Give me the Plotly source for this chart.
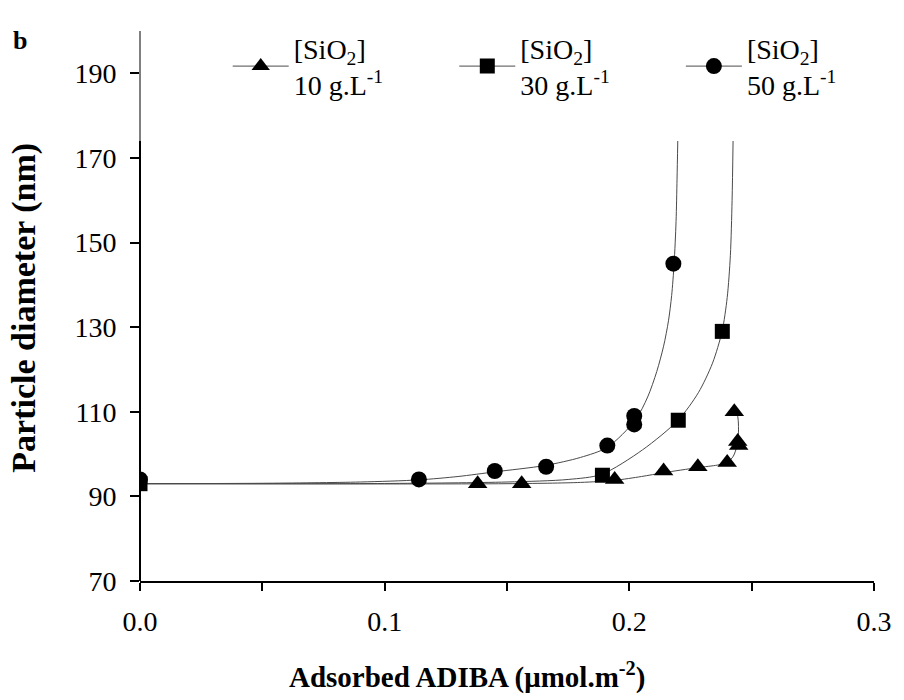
import plotly.graph_objects as go

# Measured points: adsorbed ADIBA (umol/m2) vs particle diameter (nm)
tri_x = [0.138, 0.156, 0.194, 0.214, 0.228, 0.240, 0.2443, 0.2447, 0.2429]
tri_y = [93, 93, 94, 96, 97, 98, 103, 102, 110]

sq_x = [0.0, 0.189, 0.220, 0.238]
sq_y = [93, 95, 108, 129]

circ_x = [0.0, 0.114, 0.145, 0.166, 0.191, 0.202, 0.202, 0.218]
circ_y = [94, 94, 96, 97, 102, 107, 109, 145]

# Fitted trend lines
tri_fit_x = [0.0, 0.15, 0.18, 0.194, 0.205, 0.214, 0.228, 0.236, 0.240, 0.2425, 0.2440, 0.2446, 0.2445, 0.2440]
tri_fit_y = [93, 93, 93.3, 93.8, 94.7, 95.6, 96.8, 97.4, 98.0, 99.5, 102, 105, 108, 110]

sq_fit_x = [0.0, 0.10, 0.15, 0.175, 0.1886, 0.2054, 0.2199, 0.2282, 0.2340, 0.2379, 0.2400, 0.2413, 0.2420, 0.2424]
sq_fit_y = [93, 93.05, 93.4, 94.0, 95.2, 101.0, 108, 114.5, 121.5, 129, 137, 147, 160, 174]

circ_fit_x = [0.0, 0.05, 0.09, 0.114, 0.13, 0.145, 0.1655, 0.18, 0.191, 0.2024, 0.2075,
              0.2112, 0.2140, 0.2160, 0.2173, 0.2183, 0.2191, 0.2195, 0.2198]
circ_fit_y = [93, 93.1, 93.4, 93.9, 94.7, 95.8, 97.3, 99.2, 101.6, 108, 113.5,
              119.5, 125.5, 131.5, 137.5, 145, 155, 165, 174]

legend_labels = ["[SiO<sub>2</sub>]<br>10 g.L<sup>-1</sup>",
                 "[SiO<sub>2</sub>]<br>30 g.L<sup>-1</sup>",
                 "[SiO<sub>2</sub>]<br>50 g.L<sup>-1</sup>"]

y_ticks = [70, 90, 110, 130, 150, 170, 190]
x_ticks = [0.0, 0.1, 0.2, 0.3]
x_tick_text = ["0.0", "0.1", "0.2", "0.3"]

FONT = "Liberation Serif, Times New Roman, serif"
LINE_COLOR = "#4a4a4a"
TICK_SIZE = 28
LEG_SIZE = 28

fig = go.Figure()

for fx, fy in [(tri_fit_x, tri_fit_y), (sq_fit_x, sq_fit_y), (circ_fit_x, circ_fit_y)]:
    fig.add_trace(go.Scatter(x=fx, y=fy, mode="lines",
                             line=dict(color=LINE_COLOR, width=1, shape="spline", smoothing=0.8),
                             showlegend=False, hoverinfo="skip"))

series = [
    (tri_x, tri_y, "triangle-up", 17, legend_labels[0], "legend"),
    (sq_x, sq_y, "square", 15, legend_labels[1], "legend2"),
    (circ_x, circ_y, "circle", 16, legend_labels[2], "legend3"),
]
for sx, sy, sym, size, name, leg in series:
    fig.add_trace(go.Scatter(x=sx, y=sy, mode="markers",
                             marker=dict(symbol=sym, size=size, color="black"),
                             showlegend=False, name=name))
    # legend entry: line with marker
    fig.add_trace(go.Scatter(x=[None], y=[None], mode="lines+markers", name=name, legend=leg,
                             marker=dict(symbol=sym, size=size, color="black"),
                             line=dict(color=LINE_COLOR, width=1)))

leg_common = dict(orientation="h", xanchor="left", yanchor="middle", y=0.936,
                  itemwidth=56, valign="middle", bgcolor="rgba(0,0,0,0)",
                  font=dict(family=FONT, size=LEG_SIZE, color="black"))

fig.update_layout(
    width=904, height=700, autosize=False,
    margin=dict(l=140, r=19, t=31, b=119),
    paper_bgcolor="white", plot_bgcolor="white",
    font=dict(family=FONT, size=TICK_SIZE, color="black"),
    showlegend=True,
    legend=dict(x=0.1195, **leg_common),
    legend2=dict(x=0.4282, **leg_common),
    legend3=dict(x=0.7369, **leg_common),
    xaxis=dict(range=[0, 0.3], tickvals=x_ticks, ticktext=x_tick_text,
               ticks="outside", ticklen=8, tickwidth=2, tickcolor="black",
               minor=dict(tickvals=[0.05, 0.15, 0.25], ticks="outside", ticklen=8,
                          tickwidth=2, tickcolor="black"),
               showline=True, linewidth=2, linecolor="black", showgrid=False, zeroline=False,
               ticklabelstandoff=6, tickfont=dict(size=TICK_SIZE)),
    yaxis=dict(range=[70, 200], tickvals=y_ticks,
               ticks="outside", ticklen=9, tickwidth=2, tickcolor="black",
               showline=False, showgrid=False, zeroline=False, ticklabelstandoff=8,
               tickfont=dict(size=TICK_SIZE)),
    shapes=[
        dict(type="line", xref="paper", yref="y", x0=0, x1=0, y0=70, y1=174,
             line=dict(color="black", width=2), layer="below"),
        dict(type="line", xref="paper", yref="y", x0=0, x1=0, y0=174, y1=200,
             line=dict(color="black", width=1), layer="below"),
    ],
    annotations=[
        dict(text="<b>Particle diameter (nm)</b>", textangle=-90, xref="paper", yref="paper",
             x=-0.158, y=0.497, xanchor="center", yanchor="middle", showarrow=False,
             font=dict(family=FONT, size=34)),
        dict(text="<b>Adsorbed ADIBA (μmol.m<sup>-2</sup>)</b>", xref="paper", yref="paper",
             x=0.4456, y=-0.171, xanchor="center", yanchor="middle", showarrow=False,
             font=dict(family=FONT, size=29)),
        dict(text="<b>b</b>", xref="paper", yref="paper", x=-0.1638, y=0.9836,
             xanchor="center", yanchor="middle", showarrow=False, font=dict(family=FONT, size=26)),
    ],
)

fig.write_html("out.html")
